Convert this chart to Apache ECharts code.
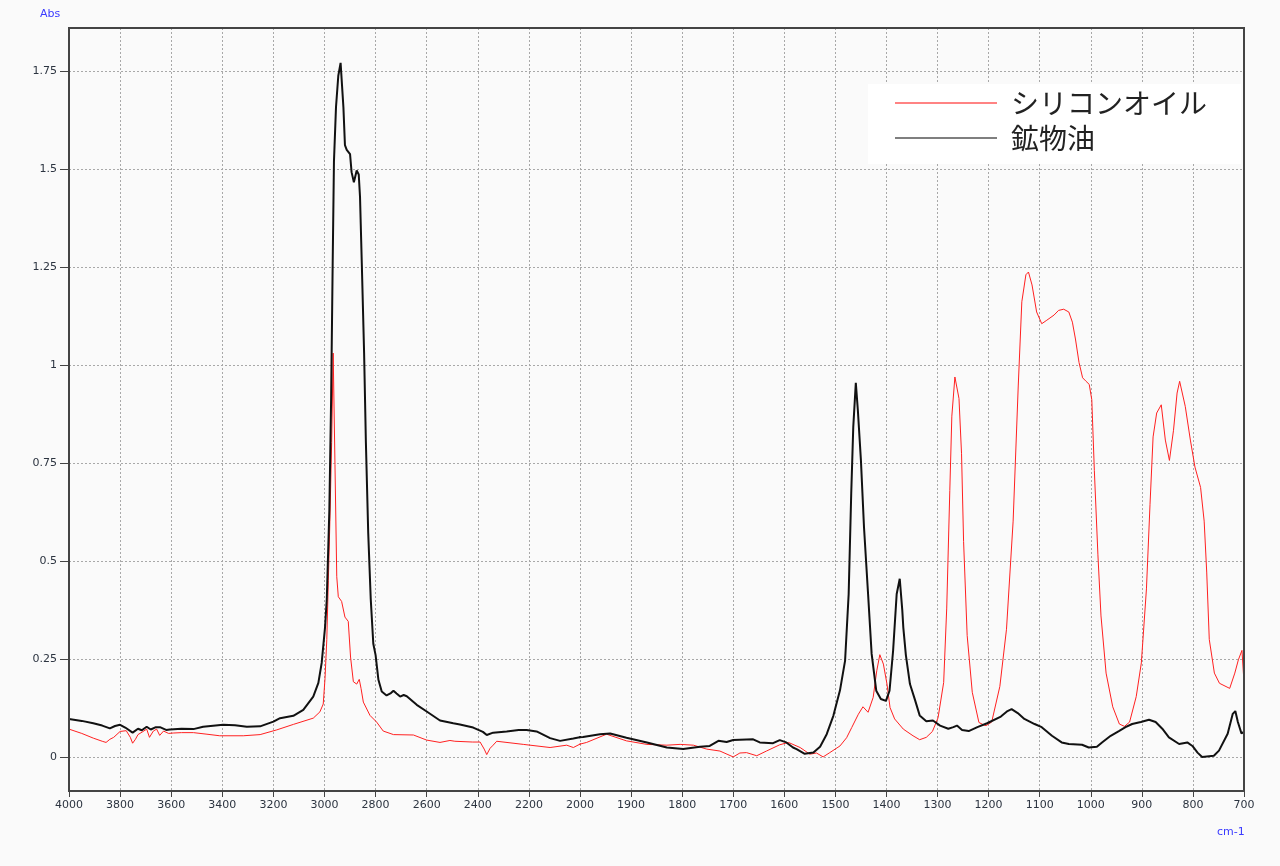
<!DOCTYPE html>
<html>
<head>
<meta charset="utf-8">
<script src="https://cdn.jsdelivr.net/npm/echarts@6/dist/echarts.min.js"></script>
<style>
html,body{margin:0;padding:0;background:#fafafa;}
#chart{width:1280px;height:866px;}
</style>
</head>
<body>
<div id="chart"></div>
<script>
// ---- data (wavenumber in cm-1, absorbance) ----
const seriesNames = ['シリコンオイル', '鉱物油'];

const redWn = [4000,3950,3905,3870,3855,3840,3825,3800,3776,3760,3751,3740,3730,3710,3696,3685,3670,3657,3645,3630,3610,3592,3560,3513,3460,3410,3318,3252,3187,3122,3044,3018,3005,2998,2991,2985,2979,2972,2966,2959,2952,2946,2933,2920,2907,2898,2887,2874,2864,2857,2848,2822,2796,2770,2730,2652,2600,2548,2509,2502,2490,2420,2391,2375,2365,2352,2340,2326,2222,2117,2052,2026,1987,1948,1909,1869,1830,1804,1778,1752,1726,1700,1687,1674,1654,1635,1609,1592,1569,1550,1537,1524,1511,1491,1478,1468,1455,1446,1436,1426,1419,1413,1406,1399,1393,1384,1367,1348,1335,1322,1310,1299,1288,1282,1276,1272,1266,1258,1253,1249,1242,1232,1219,1210,1205,1194,1178,1165,1152,1142,1135,1127,1122,1115,1106,1096,1086,1072,1063,1053,1043,1036,1030,1023,1016,1010,1003,998,993,986,980,970,957,944,934,924,911,901,891,884,878,871,862,854,846,838,831,826,815,805,796,785,778,773,768,758,748,728,718,711,704,700];
const redAbs = [0.071,0.06,0.048,0.04,0.037,0.045,0.05,0.065,0.067,0.05,0.035,0.045,0.057,0.065,0.071,0.05,0.066,0.071,0.055,0.066,0.06,0.061,0.062,0.062,0.058,0.054,0.054,0.057,0.069,0.083,0.099,0.115,0.135,0.2,0.3,0.45,0.6,0.803,1.031,0.746,0.46,0.409,0.397,0.357,0.346,0.255,0.192,0.186,0.198,0.175,0.14,0.106,0.089,0.066,0.057,0.056,0.043,0.037,0.042,0.045,0.04,0.038,0.038,0.02,0.006,0.022,0.03,0.04,0.032,0.024,0.03,0.024,0.037,0.058,0.041,0.032,0.03,0.032,0.03,0.02,0.015,0.0,0.01,0.011,0.003,0.015,0.031,0.037,0.024,0.007,0.01,0.0,0.011,0.028,0.049,0.075,0.109,0.128,0.114,0.152,0.22,0.261,0.237,0.186,0.126,0.097,0.071,0.054,0.044,0.05,0.065,0.1,0.19,0.38,0.68,0.87,0.97,0.915,0.774,0.55,0.31,0.165,0.088,0.082,0.08,0.089,0.18,0.326,0.602,0.947,1.162,1.231,1.238,1.205,1.136,1.106,1.115,1.128,1.14,1.143,1.136,1.11,1.067,1.007,0.968,0.96,0.951,0.912,0.731,0.516,0.36,0.214,0.128,0.084,0.078,0.089,0.154,0.24,0.429,0.645,0.817,0.878,0.899,0.809,0.757,0.834,0.929,0.959,0.895,0.809,0.74,0.688,0.602,0.472,0.3,0.214,0.188,0.175,0.214,0.248,0.272,0.19];

const blackWn = [4000,3950,3905,3870,3840,3820,3800,3780,3751,3730,3715,3696,3680,3660,3644,3620,3605,3560,3513,3475,3397,3350,3304,3252,3200,3174,3122,3083,3044,3024,3011,2998,2991,2981,2974,2968,2963,2955,2946,2937,2926,2920,2913,2900,2894,2885,2874,2866,2861,2854,2845,2838,2829,2819,2809,2800,2789,2776,2757,2740,2730,2718,2704,2690,2678,2639,2600,2548,2496,2470,2418,2380,2365,2340,2287,2240,2209,2170,2117,2078,2026,1994,1961,1941,1909,1869,1830,1798,1765,1746,1729,1713,1700,1687,1661,1648,1622,1609,1596,1583,1576,1560,1543,1530,1517,1504,1491,1481,1474,1469,1465,1460,1456,1450,1444,1436,1429,1420,1411,1401,1394,1387,1380,1374,1369,1367,1362,1354,1344,1335,1322,1309,1295,1279,1269,1262,1252,1239,1222,1203,1176,1163,1155,1143,1130,1110,1096,1076,1057,1043,1017,1004,988,978,961,945,932,919,902,886,873,860,847,827,811,801,791,782,759,749,732,722,717,712,705,700];
const blackAbs = [0.097,0.092,0.086,0.08,0.073,0.079,0.082,0.075,0.062,0.072,0.068,0.077,0.07,0.076,0.076,0.069,0.07,0.072,0.071,0.077,0.082,0.081,0.077,0.078,0.09,0.099,0.105,0.12,0.154,0.189,0.24,0.33,0.403,0.631,0.917,1.26,1.52,1.659,1.739,1.772,1.659,1.562,1.55,1.539,1.493,1.467,1.497,1.487,1.43,1.26,1.031,0.803,0.574,0.403,0.289,0.26,0.197,0.167,0.157,0.163,0.169,0.162,0.154,0.158,0.155,0.133,0.116,0.093,0.086,0.083,0.075,0.064,0.056,0.062,0.065,0.069,0.069,0.065,0.048,0.041,0.047,0.051,0.058,0.06,0.049,0.037,0.024,0.02,0.026,0.028,0.041,0.038,0.043,0.044,0.045,0.037,0.035,0.043,0.037,0.024,0.02,0.008,0.011,0.026,0.058,0.105,0.17,0.246,0.416,0.672,0.842,0.955,0.885,0.757,0.587,0.416,0.263,0.169,0.148,0.143,0.169,0.271,0.416,0.455,0.374,0.33,0.26,0.186,0.145,0.106,0.091,0.093,0.08,0.072,0.076,0.08,0.069,0.066,0.076,0.086,0.103,0.117,0.122,0.112,0.097,0.084,0.076,0.054,0.037,0.033,0.031,0.024,0.026,0.037,0.054,0.066,0.076,0.084,0.089,0.095,0.089,0.072,0.05,0.033,0.037,0.028,0.011,0,0.003,0.016,0.059,0.11,0.117,0.089,0.06,0.064];

const upperTicks = [4000,3800,3600,3400,3200,3000,2800,2600,2400,2200,2000];
const lowerTicks = [2000,1900,1800,1700,1600,1500,1400,1300,1200,1100,1000,900,800,700];
const yTicks = [0,0.25,0.5,0.75,1,1.25,1.5,1.75];

// ---- build ----
const zip = (a, b) => a.map((v, i) => [v, b[i]]);
const redData = zip(redWn, redAbs);
const blackData = zip(blackWn, blackAbs);

const Y_MIN = -0.087, Y_MAX = 1.861;
const labelColor = '#2c3440';
const frameColor = '#444';
const gridLine = {show: true, lineStyle: {color: '#a8a8a8', type: [2, 2], width: 1}};
const fontFam = 'DejaVu Sans';

function xAxisDef(gi, lo, hi, ticks, hideLabels) {
  return {
    type: 'value', gridIndex: gi, inverse: true, min: lo, max: hi,
    interval: ticks[0] - ticks[1],
    axisLine: {show: false, onZero: false},
    axisTick: {show: true, length: 6, inside: false, customValues: ticks, lineStyle: {color: frameColor, width: 1}},
    axisLabel: {show: true, customValues: ticks.filter(t => hideLabels.indexOf(t) < 0), margin: 9,
      formatter: v => String(v),
      fontSize: 11, fontFamily: fontFam, color: labelColor},
    splitLine: gridLine
  };
}
function yAxisDef(gi, showLabels) {
  return {
    type: 'value', gridIndex: gi, min: Y_MIN, max: Y_MAX,
    minInterval: 0.25, maxInterval: 0.25,
    axisLine: {show: false, onZero: false},
    axisTick: {show: showLabels, length: 9, customValues: yTicks, lineStyle: {color: frameColor, width: 1}},
    axisLabel: {show: showLabels, customValues: yTicks, margin: 12,
      formatter: v => String(v),
      fontSize: 11, fontFamily: fontFam, color: labelColor},
    splitLine: gridLine
  };
}

const chart = echarts.init(document.getElementById('chart'), null, {renderer: 'canvas'});
const lineRed = {type: 'line', name: seriesNames[0], symbol: 'none', showSymbol: false, animation: false,
  lineStyle: {color: '#ff2020', width: 1}, itemStyle: {color: '#ff5a5a'}, data: redData, z: 2};
const lineBlack = {type: 'line', name: seriesNames[1], symbol: 'none', showSymbol: false, animation: false,
  lineStyle: {color: '#111111', width: 2}, itemStyle: {color: '#555555'}, data: blackData, z: 3};

chart.setOption({
  backgroundColor: '#fafafa',
  animation: false,
  grid: [
    {left: 69, top: 28, width: 511, bottom: 75, show: false},
    {left: 580, top: 28, right: 36, bottom: 75, show: false},
    {left: 69, top: 28, right: 36, bottom: 75, show: true, borderColor: frameColor, borderWidth: 2, backgroundColor: 'transparent', z: 5}
  ],
  xAxis: [
    xAxisDef(0, 2000, 4000, upperTicks, [2000]),
    xAxisDef(1, 700, 2000, lowerTicks, []),
    {type: 'value', gridIndex: 2, show: false, min: 0, max: 1}
  ],
  yAxis: [
    yAxisDef(0, true),
    yAxisDef(1, false),
    {type: 'value', gridIndex: 2, show: false, min: 0, max: 1}
  ],
  legend: {
    data: seriesNames,
    orient: 'vertical',
    left: 868, top: 84,
    backgroundColor: '#ffffff',
    padding: [5, 34, 12, 27],
    itemWidth: 102, itemHeight: 1.3, itemGap: 7,
    icon: 'rect',
    textStyle: {fontSize: 28, fontFamily: 'Noto Sans CJK JP', color: '#222', padding: [0, 0, 0, 9]},
    selectedMode: false
  },
  graphic: [
    {type: 'text', left: 40, top: 9, style: {text: 'Abs', fill: '#3a3aff', font: '11px "DejaVu Sans"'}},
    {type: 'text', left: 1217, top: 827, style: {text: 'cm-1', fill: '#3a3aff', font: '11px "DejaVu Sans"'}}
  ],
  series: [
    Object.assign({}, lineRed, {xAxisIndex: 0, yAxisIndex: 0}),
    Object.assign({}, lineRed, {xAxisIndex: 1, yAxisIndex: 1}),
    Object.assign({}, lineBlack, {xAxisIndex: 0, yAxisIndex: 0}),
    Object.assign({}, lineBlack, {xAxisIndex: 1, yAxisIndex: 1})
  ]
});
</script>
</body>
</html>
